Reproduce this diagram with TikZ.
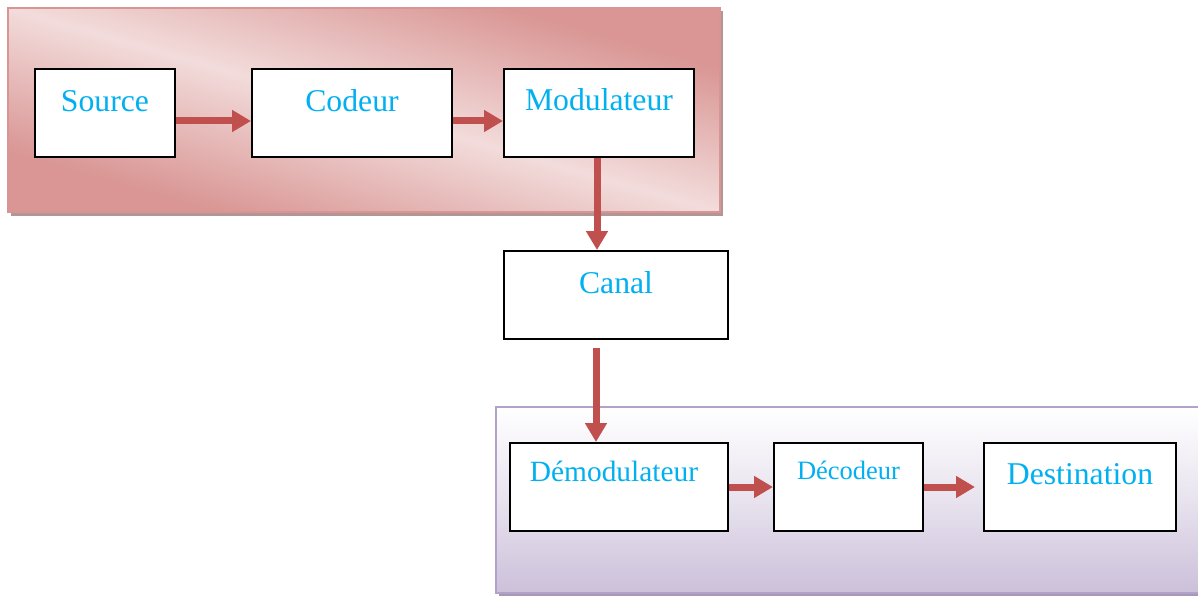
\documentclass[tikz,border=0pt]{standalone}
\usepackage{fontspec}
\setmainfont{Liberation Serif}
\usetikzlibrary{arrows.meta}
\definecolor{pdark}{HTML}{D99694}
\definecolor{plight}{HTML}{F2DCDB}
\definecolor{pborder}{HTML}{D99594}
\definecolor{pshadow}{HTML}{B39595}
\definecolor{lborder}{HTML}{B3A2C7}
\definecolor{lbottom}{HTML}{CCC0DA}
\definecolor{lshadow}{HTML}{A898B8}
\definecolor{txtblue}{HTML}{00B0F0}
\definecolor{arrred}{HTML}{C0504D}
\pgfdeclarehorizontalshading{pinkrefl}{100bp}{color(0bp)=(pdark); color(25bp)=(pdark); color(50bp)=(plight); color(75bp)=(pdark); color(100bp)=(pdark)}
\tikzset{
  blk/.style n args={3}{draw=black, line width=2pt, fill=white, inner sep=0pt,
    text width=#1, align=center, text height=#2, text depth=#3, text=txtblue, anchor=north west},
  big/.style={font=\fontsize{31.7}{34}\selectfont},
  conn/.style={draw=arrred, line width=7pt, -{Triangle[length=19pt,width=21pt]}},
}
\begin{document}
\begin{tikzpicture}[x=1pt,y=-1pt]
\useasboundingbox (0,0) rectangle (1198,596);
% top panel
\fill[pshadow] (11,11) rectangle (723,216);
\begin{scope}[transform canvas={shift={(8,8)}, xscale=3.4902}]
\shade[shading=pinkrefl, shading angle=45] (0,0) rectangle (204,204);
\end{scope}
\draw[pborder, line width=2pt] (8,8) rectangle (720,212);
% bottom panel
\fill[lshadow] (499,410) rectangle (1201,596);
\shade[top color=white, bottom color=lbottom, middle color=white!55!lbottom] (496,407) rectangle (1200,593);
\draw[lborder, line width=2pt] (496,407) rectangle (1200,593);
% boxes
\node[blk={140pt}{43pt}{45pt}, big] (src) at (34,68) {Source};
\node[blk={200pt}{43pt}{45pt}, big] (cod) at (251,68) {Codeur};
\node[blk={190pt}{42pt}{46pt}, big] (mod) at (503,68) {Modulateur};
\node[blk={224pt}{42pt}{46pt}, big] (can) at (503,250) {Canal};
\node[blk={218pt}{38pt}{50pt}, font=\fontsize{29.4}{32}\selectfont] (dem) at (509,442) {\hspace*{-10pt}Démodulateur};
\node[blk={149pt}{36pt}{52pt}, font=\fontsize{26.5}{29}\selectfont] (dec) at (773,442) {Décodeur};
\node[blk={192pt}{41pt}{47pt}, big] (dst) at (983,442) {Destination};
% connectors
\draw[conn] ([yshift=-8pt]src.east) -- ([yshift=-8pt]cod.west);
\draw[conn] ([yshift=-8pt]cod.east) -- ([yshift=-8pt]mod.west);
\draw[conn] ([xshift=-2pt]mod.south) -- ([xshift=-2pt]mod.south |- can.north);
\coordinate (c2) at (596,348);
\draw[conn] (c2) -- (c2 |- dem.north);
\draw[conn] (dem.east) -- (dec.west);
\draw[conn] (dec.east) -- ([xshift=-8pt]dst.west);
\end{tikzpicture}
\end{document}
